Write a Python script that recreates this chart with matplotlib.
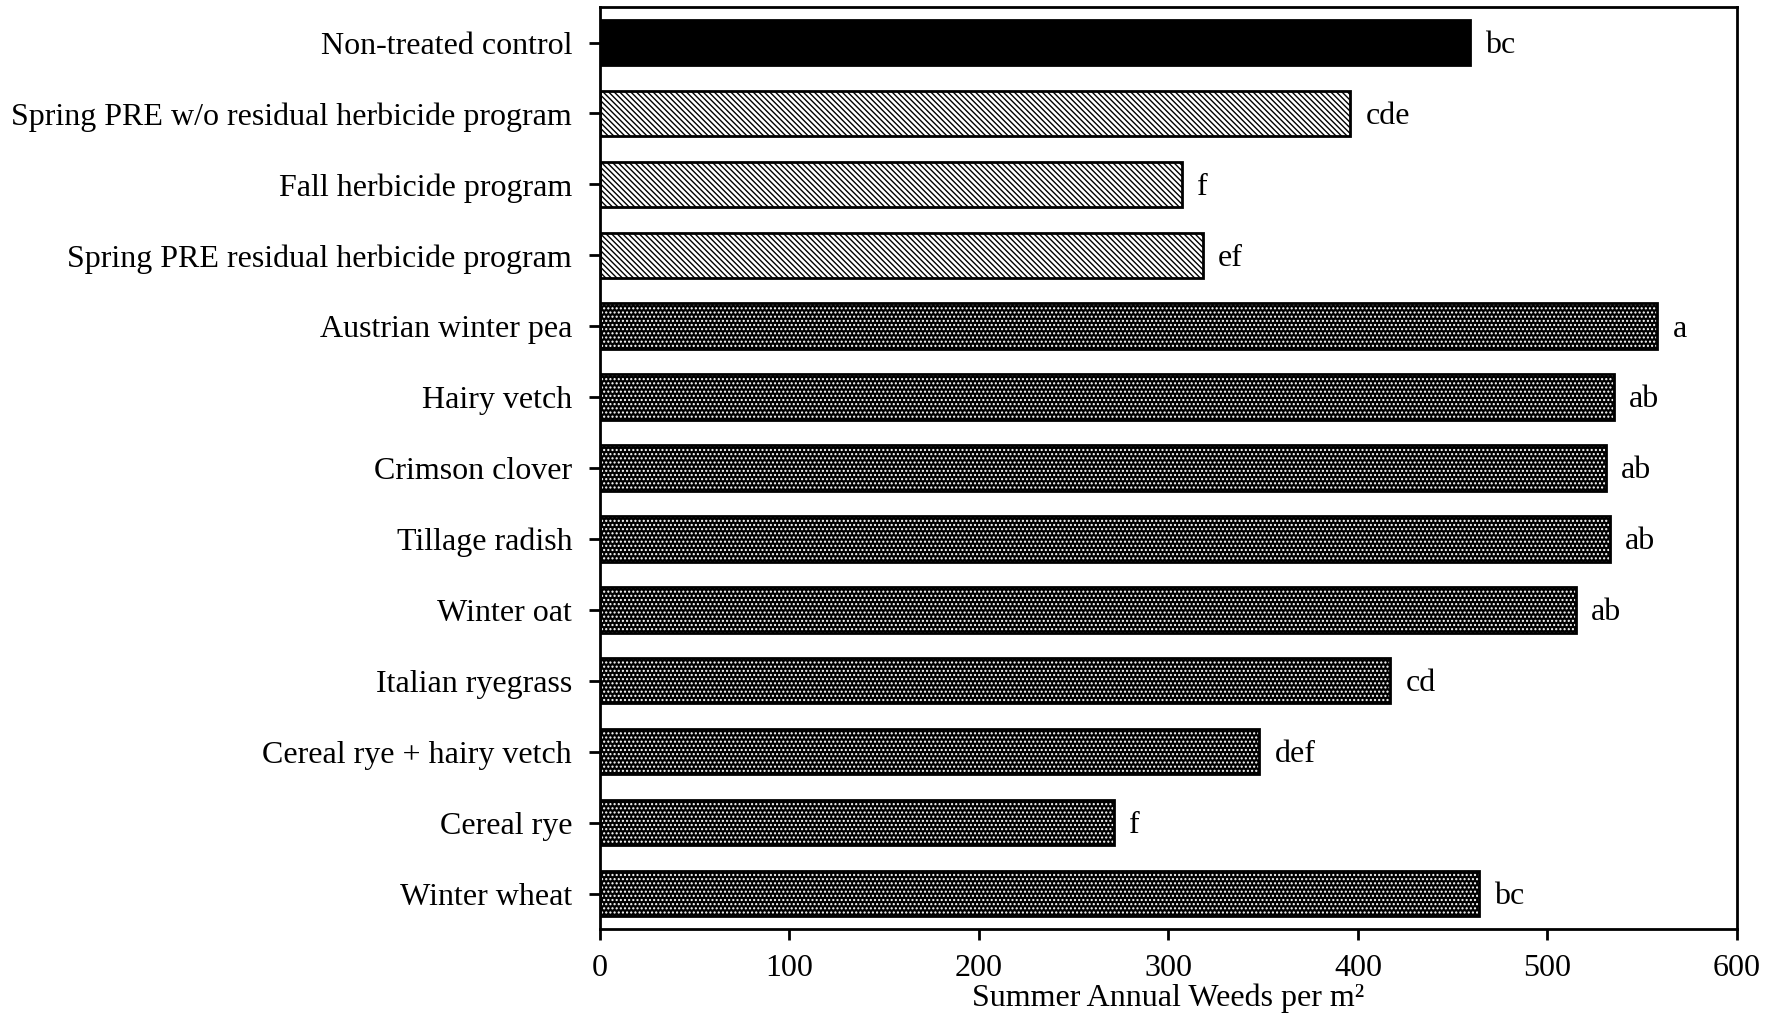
import matplotlib.pyplot as plt
import numpy as np

plt.rcParams['font.family'] = ['Liberation Serif', 'DejaVu Serif']
plt.rcParams['hatch.linewidth'] = 1.0

treatments = ["Non-treated control",
              "Spring PRE w/o residual herbicide program",
              "Fall herbicide program",
              "Spring PRE residual herbicide program",
              "Austrian winter pea",
              "Hairy vetch",
              "Crimson clover",
              "Tillage radish",
              "Winter oat",
              "Italian ryegrass",
              "Cereal rye + hairy vetch",
              "Cereal rye",
              "Winter wheat"]
weeds = [459, 396, 307, 318, 558, 535, 531, 533, 515, 417, 348, 271, 464]
letters = ["bc", "cde", "f", "ef", "a", "ab", "ab", "ab", "ab", "cd", "def", "f", "bc"]
# 0 = control, 1 = herbicide program, 2 = cover crop
group = [0, 1, 1, 1, 2, 2, 2, 2, 2, 2, 2, 2, 2]

fig = plt.figure(figsize=(17.82, 10.21), dpi=100)
ax = fig.add_axes([0.3367, 0.0901, 0.638, 0.903])

y = np.arange(len(treatments))
h = 0.64
fs = 23
for i in range(len(treatments)):
    if group[i] == 0:
        ax.barh(y[i], weeds[i], height=h, color='black', edgecolor='black', linewidth=2)
    elif group[i] == 1:
        ax.barh(y[i], weeds[i], height=h, color='white', edgecolor='black',
                hatch='\\' * 6, linewidth=0)
        ax.barh(y[i], weeds[i], height=h, fill=False, edgecolor='black', linewidth=2)
    else:
        ax.barh(y[i], weeds[i], height=h, color='black', linewidth=0)
        ax.barh(y[i], weeds[i], height=h, fill=False, edgecolor='white',
                hatch='....', linewidth=0)
        ax.barh(y[i], weeds[i], height=h, fill=False, edgecolor='black', linewidth=2)
    ax.text(weeds[i] + 8, y[i] + 0.04, letters[i], va='center', ha='left', fontsize=fs)

ax.set_ylim(len(treatments) - 0.5, -0.5)
ax.set_xlim(0, 600)
ax.set_yticks(y)
ax.set_yticklabels(treatments)
ax.set_xticks(np.arange(0, 601, 100))
ax.tick_params(axis='both', labelsize=fs, width=2, length=8, direction='out')
ax.tick_params(axis='y', pad=12)
ax.tick_params(axis='x', pad=10)
for s in ax.spines.values():
    s.set_linewidth(2)
ax.set_xlabel("Summer Annual Weeds per m\u00b2", fontsize=fs, labelpad=0)

fig.savefig('out.png', dpi=100)
